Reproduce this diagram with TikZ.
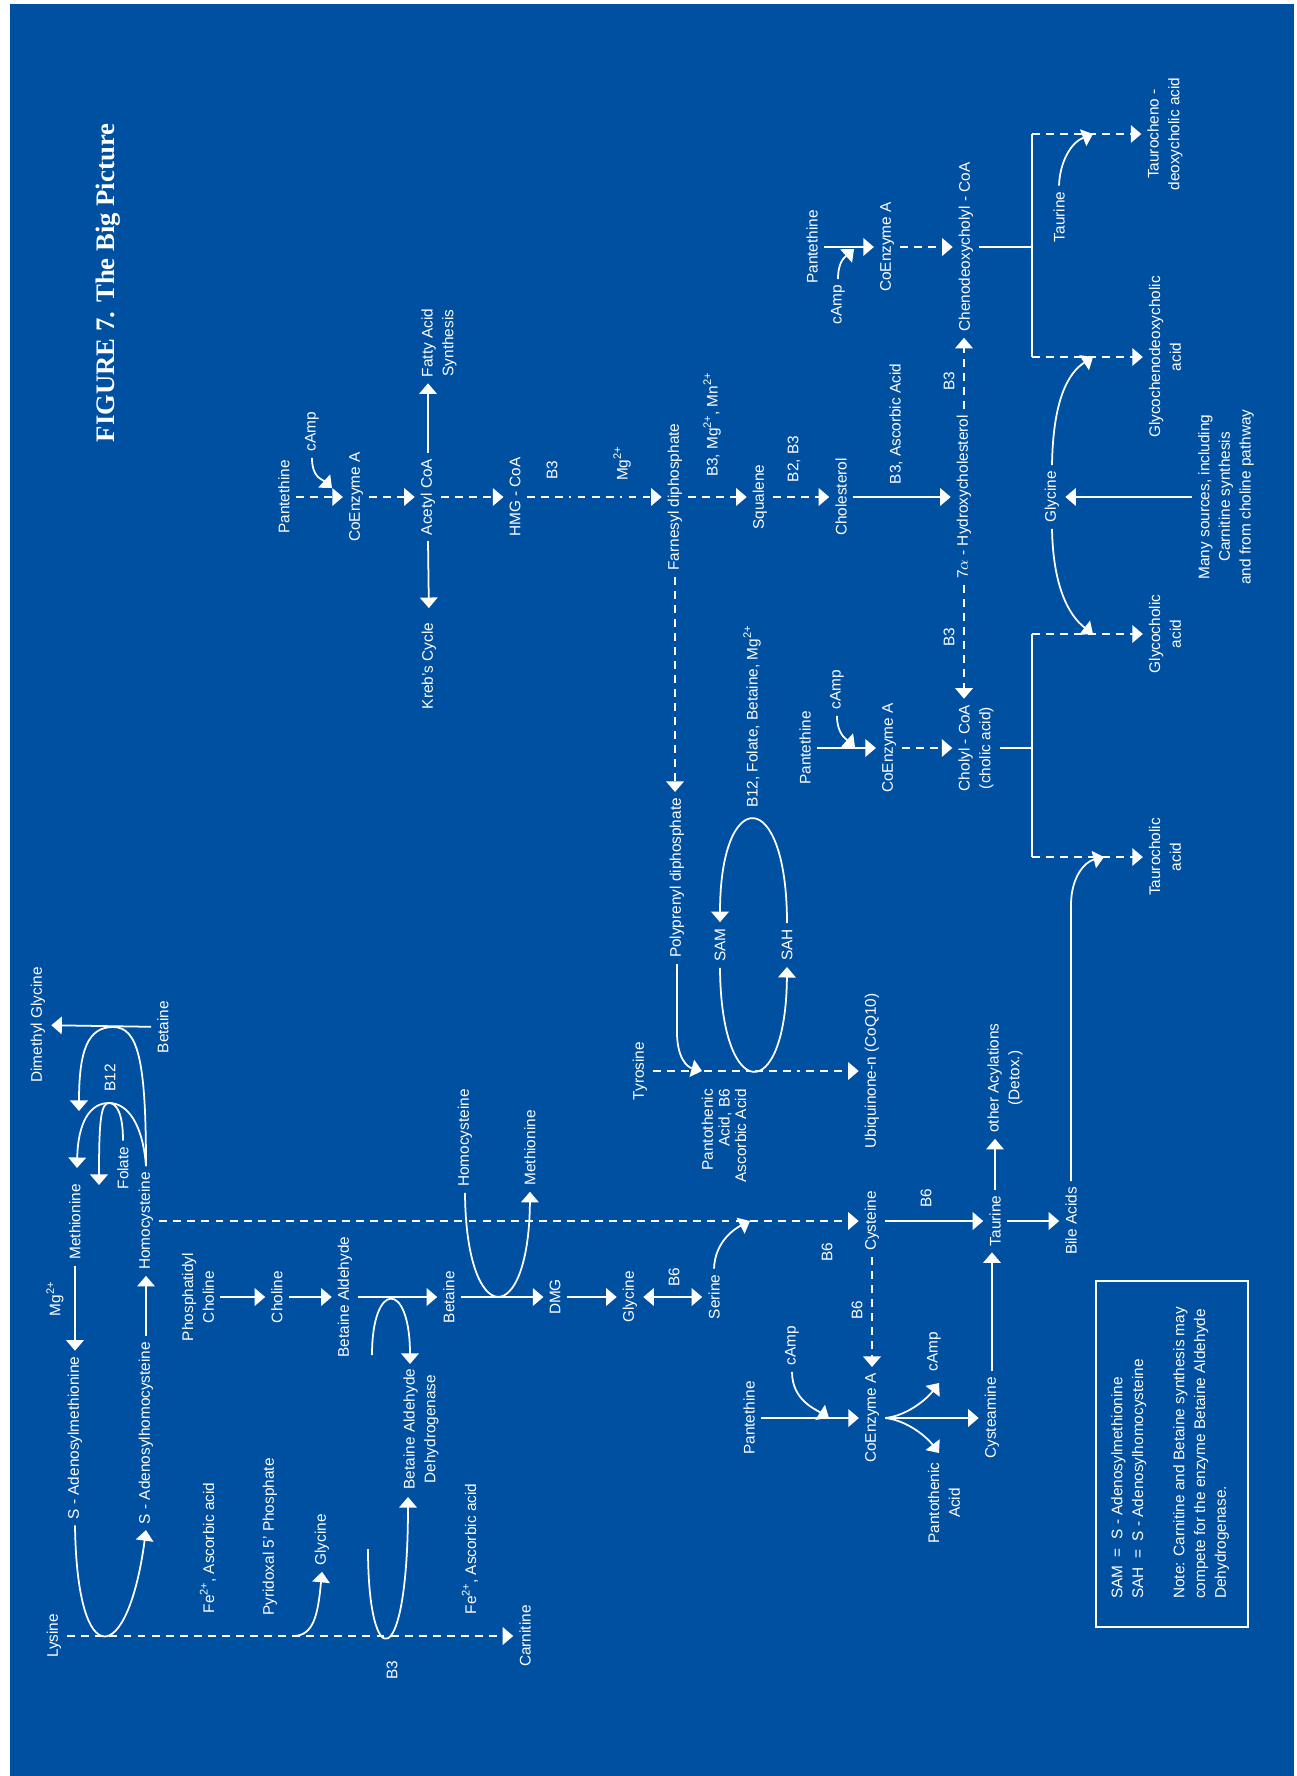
\documentclass[tikz,border=0pt]{standalone}
\usepackage{fontspec}
\setmainfont{Liberation Sans}
\newfontfamily\titlefont{Liberation Serif}
\usetikzlibrary{arrows.meta}
\definecolor{bgblue}{RGB}{0,80,162}
\newcommand{\chg}[1]{\raisebox{0.42em}{\fontsize{6.3}{6.3}\selectfont #1}}

\begin{document}
\begin{tikzpicture}[x=0.02cm, y=-0.02cm, line width=1pt, white,
    >={Triangle[length=6pt,width=10pt]},
    every node/.style={rotate=90, inner sep=3pt, text=white,
        font=\fontsize{8.75}{11.8}\selectfont},
    dsh/.style={dash pattern=on 4.5pt off 3.5pt},
    dshdot/.style={dash pattern=on 4.5pt off 3.5pt on 4.5pt off 3.5pt on 4.5pt off 3.5pt on 1.5pt off 3.5pt}]
    \useasboundingbox (0,0) rectangle (1297,1776);
    \fill[white] (0,0) rectangle (1297,1776);
    \fill[bgblue] (10,4) rectangle (1294,1776);

    \node[font=\titlefont\bfseries\fontsize{15.2}{18}\selectfont] (title) at (108,283) {FIGURE 7. The Big Picture};

    % cholesterol pathway
    \node (pant1) at (284,497) {Pantethine};
    \node (camp1) at (312,432) {cAmp};
    \node (coa1) at (356,497) {CoEnzyme A};
    \node (acetyl) at (428,497) {Acetyl CoA};
    \node[align=center] (fatty) at (439,343) {Fatty Acid\\Synthesis};
    \node (krebs) at (429,666) {Kreb's Cycle};
    \node (hmg) at (515,497) {HMG - CoA};
    \node (b3hmg) at (552,470) {B3};
    \node (mgfar) at (622,464) {Mg\chg{2+}};
    \node (farnesyl) at (675,497) {Farnesyl diphosphate};
    \node (b3mgmn) at (712,425) {B3, Mg\chg{2+}, Mn\chg{2+}};
    \node (squalene) at (760,497) {Squalene};
    \node (b2b3) at (794,459) {B2, B3};
    \node (cholesterol) at (841,497) {Cholesterol};
    \node (b3asc) at (896,424) {B3, Ascorbic Acid};
    \node (hydroxy) at (964,497) {7$\alpha$ - Hydroxycholesterol};
    \node (b3up) at (949,381) {B3};
    \node (b3down) at (949,637) {B3};
    \node (glycine2) at (1052,497) {Glycine};
    \node[align=center] (many) at (1226,497) {Many sources, including\\Carnitine synthesis\\and from choline pathway};

    \draw[dsh,->] (pant1) -- (coa1);
    \draw[->] (camp1.west) .. controls +(0,20) and +(-10,-9) .. (332,488);
    \draw[dsh,->] (coa1) -- (acetyl);
    \draw[->] (acetyl.east) -- (acetyl.east |- fatty.west);
    \draw[->, shorten >=5pt] (acetyl.west) -- (krebs.east);
    \draw[dsh,->] (acetyl) -- (hmg);
    \draw[dshdot,->] (hmg) -- (farnesyl);
    \draw[dsh,->] (farnesyl) -- (squalene);
    \draw[dsh,->] (squalene) -- (cholesterol);
    \draw[->] (cholesterol) -- (hydroxy);
    \draw[->] (many) -- (glycine2);

    % bile acids
    \node (pant3) at (812,247) {Pantethine};
    \node (camp3) at (838,305) {cAmp};
    \node (coa3) at (887,247) {CoEnzyme A};
    \node (cheno) at (966,247) {Chenodeoxycholyl - CoA};
    \node (taurine2) at (1059,217) {Taurine};
    \node[align=center] (tauro) at (1165,134) {Taurocheno -\\deoxycholic acid};
    \node[align=center] (glycocheno) at (1165,357) {Glycochenodeoxycholic\\acid};
    \node (pant2) at (805,748) {Pantethine};
    \node (camp2) at (837,690) {cAmp};
    \node (coa2) at (889,748) {CoEnzyme A};
    \node[align=center] (cholyl) at (976,748) {Cholyl - CoA\\(cholic acid)};
    \node[align=center] (glycocholic) at (1165,634) {Glycocholic\\acid};
    \node[align=center] (taurocholic) at (1165,857) {Taurocholic\\acid};

    \draw[dsh,->] (hydroxy.east) -- (hydroxy.east |- cheno.west);
    \draw[dsh,->] (hydroxy.west) -- (hydroxy.west |- cholyl.east);
    \draw[->] (pant3) -- (coa3);
    \draw[->] (camp3.east) .. controls +(0,-18) and +(-9,8) .. (854,249);
    \draw[dsh,->] (coa3) -- (cheno);
    \coordinate (fk1t) at (1032,134);
    \coordinate (fk1b) at (1032,357);
    \draw (cheno) -- (cheno -| fk1t);
    \draw (fk1t) -- (fk1b);
    \draw[dsh,->] (fk1t) -- (tauro);
    \draw[dsh,->] (fk1b) -- (glycocheno);
    \draw[->] (taurine2.east) .. controls (1060,160) and (1072,142) .. (1093,134);
    \draw[->] (glycine2.east) .. controls (1053,400) and (1068,373) .. (1093,357);
    \draw[->] (glycine2.west) .. controls (1053,585) and (1068,615) .. (1093,634);
    \draw[->] (pant2) -- (coa2);
    \draw[->] (camp2.west) .. controls +(0,18) and +(-9,-8) .. (855,747);
    \draw[dsh,->] (coa2) -- (cholyl);
    \coordinate (fk2t) at (1032,634);
    \coordinate (fk2b) at (1032,857);
    \draw (cholyl) -- (cholyl -| fk2t);
    \draw (fk2t) -- (fk2b);
    \draw[dsh,->] (fk2t) -- (glycocholic);
    \draw[dsh,->] (fk2b) -- (taurocholic);

    % ubiquinone
    \node (polyprenyl) at (677,878) {Polyprenyl diphosphate};
    \node (b12fol) at (752,717) {B12, Folate, Betaine, Mg\chg{2+}};
    \node (sam) at (720,945) {SAM};
    \node (sah) at (787,945) {SAH};
    \node (tyrosine) at (640,1071) {Tyrosine};
    \node[anchor=east, align=right, font=\fontsize{8.75}{9.4}\selectfont] (pantac) at (724,1083) {Pantothenic\\Acid, B6\\Ascorbic Acid};
    \node (ubiq) at (872,1071) {Ubiquinone-n (CoQ10)};

    \draw[dsh,->] (farnesyl.west) -- (farnesyl.west |- polyprenyl.east);
    \draw[->] (polyprenyl.west) -- (677,1032) .. controls (677,1058) and (687,1067) .. (702,1071);
    \draw[->] (sah.east) .. controls (787,785) and (720,785) .. (sam.east);
    \draw[->] (sam.west) .. controls (721,1105) and (786,1105) .. (sah.west);
    \draw[dshdot,->] (tyrosine) -- (ubiq);

    % methylation and sulfur
    \node (homocys2) at (465,1138) {Homocysteine};
    \node (methion2) at (530,1148) {Methionine};
    \node (betaine2) at (449,1297) {Betaine};
    \node (dmg) at (555,1297) {DMG};
    \node (glycine1) at (630,1297) {Glycine};
    \node (b6gly) at (674,1277) {B6};
    \node (serine) at (714,1297) {Serine};
    \node (b6hcy) at (827,1252) {B6};
    \node (cysteine) at (872,1221) {Cysteine};
    \node (b6tau) at (926,1198) {B6};
    \node (taurine1) at (995,1221) {Taurine};
    \node[align=center] (acyl) at (1005,1078) {other Acylations\\(Detox.)};
    \node (bile) at (1071,1221) {Bile Acids};
    \node (b6coa) at (857,1310) {B6};
    \node (pant4) at (749,1418) {Pantethine};
    \node (camp4) at (792,1346) {cAmp};
    \node (coa4) at (872,1418) {CoEnzyme A};
    \node (camp5) at (934,1352) {cAmp};
    \node[align=center] (pantacid) at (944,1503) {Pantothenic\\Acid};
    \node (cysteamine) at (992,1418) {Cysteamine};

    \draw[->] (bile.east) -- (1071,905) .. controls (1071,878) and (1084,862) .. (1104,857);
    \draw[->] (homocys2.west) .. controls (466,1330) and (529,1330) .. (methion2.west);
    \draw[->] (serine.east) .. controls +(1,-28) and +(-14,7) .. (750,1221);
    \draw[->] (betaine2) -- (dmg);
    \draw[->] (dmg) -- (glycine1);
    \draw[<->] (glycine1) -- (serine);
    \draw[->] (cysteine) -- (taurine1);
    \draw[->] (taurine1.east) -- (taurine1.east |- acyl.west);
    \draw[->] (taurine1) -- (bile);
    \draw[dsh,->] (cysteine) -- (coa4);
    \draw[->] (pant4) -- (coa4);
    \draw[->] (camp4.west) .. controls +(0,28) and +(-14,-9) .. (829,1418);
    \coordinate (fan) at (coa4.south);
    \draw[->] (fan) -- (cysteamine);
    \draw[->] (fan) .. controls (906,1416) and (926,1400) .. (939,1383);
    \draw[->] (fan) .. controls (906,1420) and (926,1436) .. (939,1453);
    \draw[->] (cysteamine.east) -- (cysteamine.east |- taurine1.west);

    % left part
    \node (dmglyc) at (38,1025) {Dimethyl Glycine};
    \node (betaine1) at (163,1027) {Betaine};
    \node (b12) at (110,1078) {B12};
    \node (folate) at (123,1168) {Folate};
    \node (methion1) at (75,1222) {Methionine};
    \node (homocys1) at (146,1221) {Homocysteine};
    \node (mgsam) at (55,1299) {Mg\chg{2+}};
    \node (sadomet) at (75,1438) {S - Adenosylmethionine};
    \node (sadohcy) at (146,1433) {S - Adenosylhomocysteine};
    \node[align=center] (phos) at (198,1297) {Phosphatidyl\\Choline};
    \node (choline) at (277,1297) {Choline};
    \node (betald) at (345,1297) {Betaine Aldehyde};
    \node (fe1) at (208,1548) {Fe\chg{2+}, Ascorbic acid};
    \node (pyr) at (270,1537) {Pyridoxal 5' Phosphate};
    \node (glycine0) at (322,1540) {Glycine};
    \node[align=center] (bad) at (421,1429) {Betaine Aldehyde\\Dehydrogenase};
    \node (lysine) at (54,1636) {Lysine};
    \node (b3car) at (392,1670) {B3};
    \node (fe2) at (470,1549) {Fe\chg{2+}, Ascorbic acid};
    \node (carnitine) at (525,1636) {Carnitine};

    \draw[dsh,->] (homocys1) -- (cysteine);
    \draw[->] (betaine1) -- (dmglyc);
    \draw[->] (homocys1.east) .. controls (146,1060) and (138,1027) .. (113,1027) .. controls (88,1027) and (79,1050) .. (79,1111);
    \draw[->] (homocys1.east) .. controls (143,1125) and (128,1103) .. (109,1103) .. controls (90,1103) and (78,1122) .. (77,1168);
    \draw[->] (folate.east) .. controls (123,1112) and (116,1103) .. (109,1103) .. controls (101,1103) and (99,1120) .. (99,1185);
    \draw[->] (methion1) -- (sadomet);
    \draw[->] (sadohcy) -- (homocys1);
    \draw[->] (sadomet.west) .. controls (77,1676) and (128,1666) .. (sadohcy.west);
    \draw[dsh,->] (lysine) -- (carnitine);
    \coordinate (gly0) at (293,1636);
    \draw[->] (gly0) .. controls (314,1636) and (318,1614) .. (glycine0.west);
    \coordinate (b3lo) at (368,1549);
    \coordinate (badlo) at (408,1497);
    \draw[->] (b3lo) .. controls (368,1675) and (408,1675) .. (badlo);
    \draw[->] (phos) -- (choline);
    \draw[->] (choline) -- (betald);
    \draw[->] (betald) -- (betaine2);
    \coordinate (b3hi) at (372,1355);
    \coordinate (badhi) at (410,1364);
    \draw[->] (b3hi) .. controls (372,1280) and (410,1280) .. (badhi);

    % legend
    \draw (1096,1281) rectangle (1248,1627);
    \node[anchor=north west, align=left] (legend) at (1105,1605) {SAM \ = \ S - Adenosylmethionine\\SAH \ = \ S - Adenosylhomocysteine\\[11.8pt]Note: Carnitine and Betaine synthesis may\\compete for the enzyme Betaine Aldehyde\\Dehydrogenase.};
\end{tikzpicture}
\end{document}
